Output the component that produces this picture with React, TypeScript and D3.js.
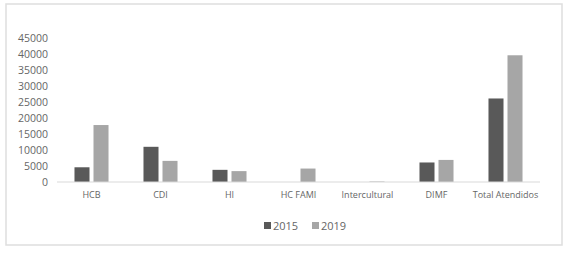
import React from "react";
import * as d3 from "d3";

const categories = ["HCB", "CDI", "HI", "HC FAMI", "Intercultural", "DIMF", "Total Atendidos"];
const series2015 = [4600, 11000, 3800, 0, 0, 6100, 26100];
const series2019 = [17800, 6600, 3400, 4200, 150, 6900, 39600];
const seriesNames = ["2015", "2019"];
const yTicks = [0, 5000, 10000, 15000, 20000, 25000, 30000, 35000, 40000, 45000];

const colors = ["#595959", "#a6a6a6"];
const font = "'Open Sans', sans-serif";
const textColor = "#666";

const App = () => {
  const width = 567;
  const height = 253;

  const x = d3.scaleBand().domain(categories).range([57, 540]);
  const inner = d3.scaleBand().domain(seriesNames).range([0, x.bandwidth()]).paddingInner(0.21).paddingOuter(0.92);
  const y = d3.scaleLinear().domain([0, 45000]).range([182, 38]);

  const allSeries = [series2015, series2019];

  return (
    <svg width={width} height={height} style={{ position: "absolute", left: 0, top: 0 }}>
      <rect x={0} y={0} width={width} height={height} fill="#fff" />
      <rect x={6} y={4} width={556} height={241} fill="#fff" stroke="#dedede" strokeWidth={1.5} />

      {yTicks.map((t) => (
        <text key={t} x={48} y={y(t)} dy="0.35em" textAnchor="end" fontSize={10.5} fontFamily={font} fill={textColor}>
          {t}
        </text>
      ))}

      {allSeries.map((vals, si) =>
        vals.map((v, i) => (
          <rect
            key={`${si}-${i}`}
            x={(x(categories[i]) ?? 0) + (inner(seriesNames[si]) ?? 0)}
            y={y(v)}
            width={inner.bandwidth()}
            height={y(0) - y(v)}
            fill={colors[si]}
          />
        ))
      )}

      <line x1={57} x2={540} y1={y(0)} y2={y(0)} stroke="#d9d9d9" strokeWidth={1} />

      {categories.map((c) => (
        <text key={c} x={(x(c) ?? 0) + x.bandwidth() / 2} y={198} textAnchor="middle" fontSize={9} fontFamily={font} fill={textColor}>
          {c}
        </text>
      ))}

      {seriesNames.map((s, i) => (
        <g key={s} transform={`translate(${264 + i * 48},0)`}>
          <rect x={0} y={222} width={7} height={7} fill={colors[i]} />
          <text x={9} y={229.5} fontSize={11} fontFamily={font} fill={textColor}>
            {s}
          </text>
        </g>
      ))}
    </svg>
  );
};

export default App;
